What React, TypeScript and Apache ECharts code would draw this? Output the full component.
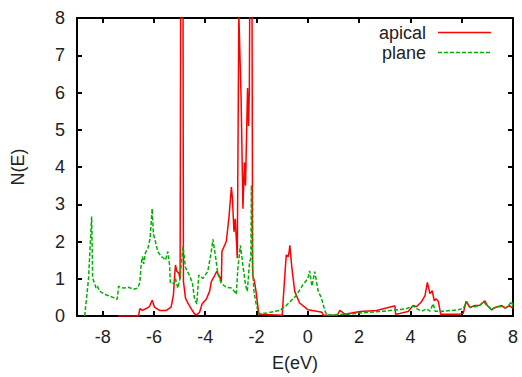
import React, { useEffect, useRef } from "react";
import * as echarts from "echarts";

const xTicks = [-8, -6, -4, -2, 0, 2, 4, 6, 8];
const yTicks = [0, 1, 2, 3, 4, 5, 6, 7, 8];
const seriesNames = ["apical", "plane"];
const seriesColors = ["#ff0000", "#00b000"];

const apicalE = [
  -7.4, -6.6, -6.55, -6.45, -6.3, -6.18, -6.07, -5.98, -5.78, -5.52, -5.33, -5.24, -5.19, -5.16, -5.11, -5.03,
  -4.98, -4.94, -4.88, -4.85, -4.77, -4.68, -4.55, -4.42, -4.33, -4.22, -4.12, -3.96, -3.83, -3.76, -3.64,
  -3.55, -3.44, -3.37, -3.35, -3.18, -3.08, -2.98, -2.94, -2.88, -2.83, -2.79, -2.75, -2.69, -2.6, -2.53,
  -2.47, -2.43, -2.35, -2.31, -2.28, -2.24, -2.19, -2.15, -2.08, -2.02, -1.91, -1.0, -0.9, -0.84, -0.77,
  -0.73, -0.7, -0.68, -0.62, -0.51, -0.32, 0.0, 0.4, 0.55, 0.6, 1.15, 1.25, 1.31, 1.44, 2.03, 2.68, 3.33,
  3.4, 3.42, 3.59, 3.91, 4.11, 4.24, 4.44, 4.57, 4.66, 4.76, 4.85, 4.93, 5.01, 5.09, 5.18, 5.93, 6.06,
  6.17, 6.32, 6.52, 6.71, 6.9, 7.0, 7.17, 7.23, 7.37, 7.56, 7.69, 7.86, 8.0,
];
const apicalN = [
  0, 0, 0.2, 0.15, 0.2, 0.25, 0.42, 0.24, 0.15, 0.15, 0.24, 0.57, 1.1, 1.37, 1.2, 1.15,
  1.0, 15, 15, 0.93, 0.48, 0.35, 0.2, 0.06, 0.03, 0.1, 0.33, 0.45, 0.66, 0.93, 1.08,
  1.2, 1.06, 0.92, 1.73, 2.0, 2.61, 3.46, 3.15, 2.26, 2.61, 2.08, 1.55, 8.1, 5.8, 2.88,
  4.12, 3.5, 6.12, 5.1, 6.08, 12, 12, 1.1, 0.93, 0.66, 0.05, 0.02, 1.06, 1.64, 1.59,
  1.72, 1.9, 1.72, 1.28, 0.66, 0.35, 0.17, 0.12, 0.1, 0.02, 0.02, 0.15, 0.12, 0.05, 0.12, 0.15, 0.26,
  0.27, 0.05, 0.07, 0.12, 0.28, 0.25, 0.39, 0.55, 0.9, 0.6, 0.68, 0.41, 0.46, 0.39, 0.05, 0.05, 0.07,
  0.39, 0.23, 0.28, 0.29, 0.41, 0.28, 0.16, 0.2, 0.24, 0.28, 0.21, 0.28, 0.21,
];

const planeE = [
  -8.7, -8.55, -8.43, -8.39, -8.3, -8.26, -8.2, -8.13, -7.87, -7.6, -7.43, -7.38, -7.2, -7.0, -6.8, -6.63,
  -6.55, -6.5, -6.45, -6.4, -6.33, -6.24, -6.15, -6.07, -6.02, -5.97, -5.85, -5.72, -5.62, -5.55, -5.46,
  -5.39, -5.36, -5.2, -5.16, -5.07, -4.98, -4.94, -4.87, -4.82, -4.77, -4.61, -4.5, -4.42, -4.33, -4.25,
  -4.09, -3.9, -3.77, -3.7, -3.6, -3.51, -3.38, -3.18, -2.98, -2.86, -2.79, -2.73, -2.63, -2.53, -2.43,
  -2.36, -2.27, -2.22, -2.2, -2.16, -2.1, -2.01, -1.91, -1.6, -1.1, -0.84, -0.45, -0.19, 0.0, 0.07, 0.16,
  0.27, 0.4, 0.53, 0.66, 0.73, 0.92, 1.6, 2.03, 2.94, 3.4, 3.85, 4.11, 4.24, 4.44, 4.63, 4.76, 4.89, 4.96,
  5.28, 5.8, 6.06, 6.2, 6.32, 6.52, 6.7, 6.86, 6.95, 7.17, 7.37, 7.56, 7.75, 7.95, 8.0,
];
const planeN = [
  0, 1.0, 2.67, 1.01, 0.85, 0.75, 0.8, 0.67, 0.57, 0.5, 0.45, 0.8, 0.75, 0.77, 0.72, 0.75,
  0.9, 1.37, 1.6, 1.4, 1.7, 1.81, 2.08, 2.88, 2.2, 2.08, 1.73, 1.6, 1.55, 1.5, 1.73,
  1.37, 0.88, 0.88, 1.0, 0.75, 1.01, 1.37, 1.86, 1.6, 1.3, 1.08, 0.88, 0.48, 0.32, 1.1,
  1.01, 1.2, 1.7, 2.06, 1.6, 1.15, 0.88, 0.77, 0.75, 0.66, 0.58, 1.26, 1.9, 1.35, 0.84,
  0.66, 1.46, 1.55, 3.51, 1.37, 0.66, 0.3, 0.06, 0.08, 0.15, 0.28, 0.55, 0.84, 1.0, 1.21, 0.8,
  1.19, 0.68, 0.48, 0.15, 0.04, 0.03, 0.05, 0.08, 0.13, 0.16, 0.2, 0.27, 0.2, 0.13, 0.19, 0.13, 0.33, 0.13,
  0.13, 0.16, 0.2, 0.39, 0.23, 0.25, 0.28, 0.39, 0.3, 0.18, 0.26, 0.25, 0.22, 0.39, 0.24,
];

const FONT = "'Liberation Sans', Arial, Helvetica, sans-serif";
const TXT = "#222";
const DASH = [4, 2];

export default function App() {
  const ref = useRef<HTMLDivElement>(null);
  useEffect(() => {
    if (!ref.current) return;
    const chart = echarts.init(ref.current, undefined, { renderer: "svg" });
    const apical = apicalE.map((e, i) => [e, apicalN[i]]);
    const plane = planeE.map((e, i) => [e, planeN[i]]);
    const axisLine = { show: true, onZero: false, lineStyle: { color: "#000", width: 2 } };
    const tick = { show: true, inside: true, length: 5, lineStyle: { color: "#000", width: 2 } };
    const legendItems = seriesNames.flatMap((name, i) => [
      {
        type: "text",
        x: 426,
        y: 32.5 + i * 20,
        style: {
          text: name,
          fontSize: 18,
          fontFamily: FONT,
          fill: TXT,
          align: "right",
          verticalAlign: "middle",
        },
      },
      {
        type: "line",
        shape: { x1: 438, y1: 32.5 + i * 20, x2: 491, y2: 32.5 + i * 20 },
        style: { stroke: seriesColors[i], lineWidth: 1.5, lineDash: i === 1 ? DASH : null },
      },
    ]);
    chart.setOption({
      animation: false,
      textStyle: { fontFamily: FONT },
      grid: { left: 77, right: 9, top: 18, bottom: 59 },
      graphic: legendItems,
      xAxis: [
        {
          type: "value",
          min: -9,
          max: 8,
          position: "bottom",
          name: "E(eV)",
          nameLocation: "middle",
          nameGap: 38,
          nameTextStyle: { fontSize: 18, color: TXT, fontFamily: FONT },
          axisLine,
          axisTick: { ...tick, customValues: xTicks },
          axisLabel: { customValues: xTicks, fontSize: 18, color: TXT, margin: 12, fontFamily: FONT },
          splitLine: { show: false },
        },
        {
          type: "value",
          min: -9,
          max: 8,
          position: "top",
          axisLine,
          axisTick: { ...tick, customValues: xTicks },
          axisLabel: { show: false, customValues: xTicks },
          splitLine: { show: false },
        },
      ],
      yAxis: [
        {
          type: "value",
          min: 0,
          max: 8,
          interval: 1,
          position: "left",
          name: "N(E)",
          nameLocation: "middle",
          nameGap: 50,
          nameTextStyle: { fontSize: 18, color: TXT, fontFamily: FONT },
          axisLine,
          axisTick: { ...tick, customValues: yTicks },
          axisLabel: { customValues: yTicks, fontSize: 18, color: TXT, margin: 12, fontFamily: FONT },
          splitLine: { show: false },
        },
        {
          type: "value",
          min: 0,
          max: 8,
          interval: 1,
          position: "right",
          axisLine,
          axisTick: { ...tick, customValues: yTicks },
          axisLabel: { show: false },
          splitLine: { show: false },
        },
      ],
      series: [
        {
          name: seriesNames[0],
          type: "line",
          data: apical,
          symbol: "none",
          showSymbol: false,
          clip: true,
          lineStyle: { color: seriesColors[0], width: 1.5 },
          itemStyle: { color: seriesColors[0] },
        },
        {
          name: seriesNames[1],
          type: "line",
          data: plane,
          symbol: "none",
          showSymbol: false,
          clip: true,
          lineStyle: { color: seriesColors[1], width: 1.5, type: DASH },
          itemStyle: { color: seriesColors[1] },
        },
      ],
    });
    return () => chart.dispose();
  }, []);
  return (
    <div
      ref={ref}
      style={{ position: "fixed", left: 0, top: 0, width: 522, height: 377, background: "#fff" }}
    />
  );
}
